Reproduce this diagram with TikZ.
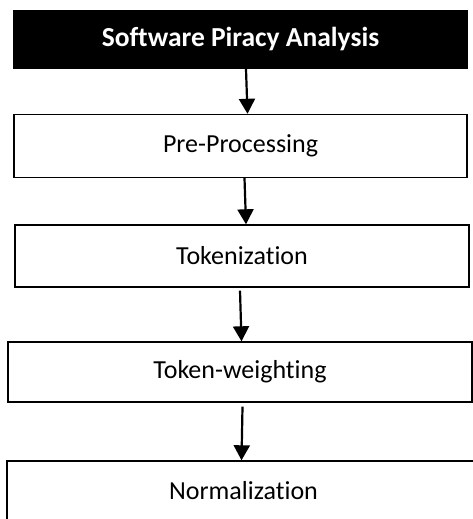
\documentclass[tikz,border=0pt]{standalone}
\usepackage{fontspec}
\setmainfont{Carlito}[RawFeature=-liga]
\usepackage{tikz}
\usetikzlibrary{arrows.meta}
\tikzset{
  stagebox/.style={draw=black,fill=white,line width=1.4pt,inner sep=0pt,font=\fontsize{26}{30}\selectfont},
  titlebox/.style={fill=black,text=white,inner sep=0pt,font=\fontsize{27.5}{32}\selectfont\bfseries},
  flowarrow/.style={-{Triangle[length=15pt,width=16pt]},line width=2.2pt},
  every picture/.style={font=\small}
}
\begin{document}
\begin{tikzpicture}[x=1pt,y=-1pt]
  \useasboundingbox (0,0) rectangle (473,519);
  \clip (0,0) rectangle (473,519);
  \fill[white] (0,0) rectangle (473,519);
  \node[titlebox,minimum width=455pt,minimum height=59pt] (title) at (240.5,39.5) {Software Piracy Analysis};
  \node[stagebox,minimum width=453pt,minimum height=63pt] (prep) at (240.5,146) {Pre-Processing};
  \node[stagebox,minimum width=454pt,minimum height=62pt] (token) at (242,256) {Tokenization};
  \node[stagebox,minimum width=464pt,minimum height=60pt] (weight) at (240,372) {Token-weighting};
  \node[stagebox,minimum width=473pt,minimum height=60pt] (norm) at (243.5,491) {Normalization};
  \draw[flowarrow] ([xshift=5.5pt]title.south) -- ([xshift=7pt]prep.north);
  \draw[flowarrow] ([xshift=4pt]prep.south) -- ([xshift=4pt]token.north);
  \draw[flowarrow] ([xshift=-2pt,yshift=-3pt]token.south) -- ([xshift=1.5pt]weight.north);
  \draw[flowarrow] ([xshift=2.5pt,yshift=-4pt]weight.south) -- ([xshift=-2pt]norm.north);
  %\draw[flowarrow] (norm.south) -- ++(0,40);
\end{tikzpicture}
\end{document}
